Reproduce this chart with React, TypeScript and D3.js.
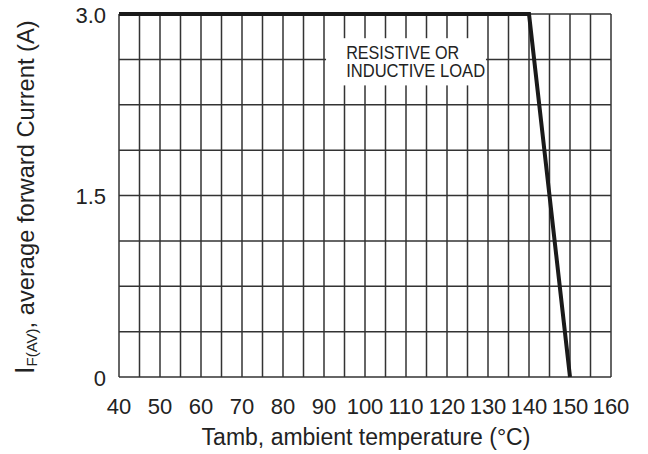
import React from "react";
import * as d3 from "d3";

const temps = [40, 140, 150];
const currents = [3.0, 3.0, 0];
const xTicks = [40, 50, 60, 70, 80, 90, 100, 110, 120, 130, 140, 150, 160];
const yTicks = [0, 1.5, 3.0];
const yTickLabels = ["0", "1.5", "3.0"];
const xGrid = d3.range(40, 160.01, 5);
const yGrid = d3.range(0, 3.0001, 0.375);
const noteLines = ["RESISTIVE OR", "INDUCTIVE LOAD"];

const W = 648, H = 454;
const L = 119, R = 611, T = 14, B = 377;
const FONT = "'Liberation Sans', Arial, Helvetica, sans-serif";

export default function App() {
  const x = d3.scaleLinear().domain([40, 160]).range([L, R]);
  const y = d3.scaleLinear().domain([0, 3]).range([B, T]);
  const line = d3.line<number>().x((d, i) => x(temps[i])).y((d) => y(d));
  const grid = "#333";
  return (
    <svg width={W} height={H} style={{ position: "absolute", left: 0, top: 0, background: "#fff" }}>
      <rect x={0} y={0} width={W} height={H} fill="#fff" />
      {xGrid.map((v) => (
        <line key={"vx" + v} x1={x(v)} x2={x(v)} y1={y(0)} y2={y(3)} stroke={grid} strokeWidth={1.5} />
      ))}
      {yGrid.map((v) => (
        <line key={"hy" + v} x1={x(40)} x2={x(160)} y1={y(v)} y2={y(v)} stroke={grid} strokeWidth={1.5} />
      ))}
      <rect x={x(90.5)} y={y(2.8)} width={x(129.5) - x(90.5)} height={y(2.41) - y(2.8)} fill="#fff" />
      <text y={59} fontFamily={FONT} fontSize={17.5} fill="#222">
        {noteLines.map((t, i) => (
          <tspan key={t} x={x(95.4)} dy={i === 0 ? 0 : 18}
            textLength={i === 0 ? 113 : 139} lengthAdjust="spacingAndGlyphs">
            {t}
          </tspan>
        ))}
      </text>
      <path d={line(currents) || ""} fill="none" stroke="#1a1a1a" strokeWidth={4} strokeLinejoin="miter" />
      {xTicks.map((v) => (
        <text key={"xt" + v} x={x(v)} y={414} textAnchor="middle" fontFamily={FONT} fontSize={22} fill="#222">
          {v}
        </text>
      ))}
      {yTicks.map((v, i) => (
        <text key={"yt" + v} x={106} y={y(v) + 8.5} textAnchor="end" fontFamily={FONT} fontSize={22} fill="#222">
          {yTickLabels[i]}
        </text>
      ))}
      <text x={(L + R) / 2 + 1} y={445} textAnchor="middle" fontFamily={FONT} fontSize={23} fill="#222">
        Tamb, ambient temperature (°C)
      </text>
      <text transform={`translate(34,374) rotate(-90)`} fontFamily={FONT} fontSize={23.7} fill="#222">
        <tspan fontSize={27}>I</tspan>
        <tspan fontSize={15} dy={3}>F(AV)</tspan>
        <tspan dy={-3}>, average forward Current (A)</tspan>
      </text>
    </svg>
  );
}
